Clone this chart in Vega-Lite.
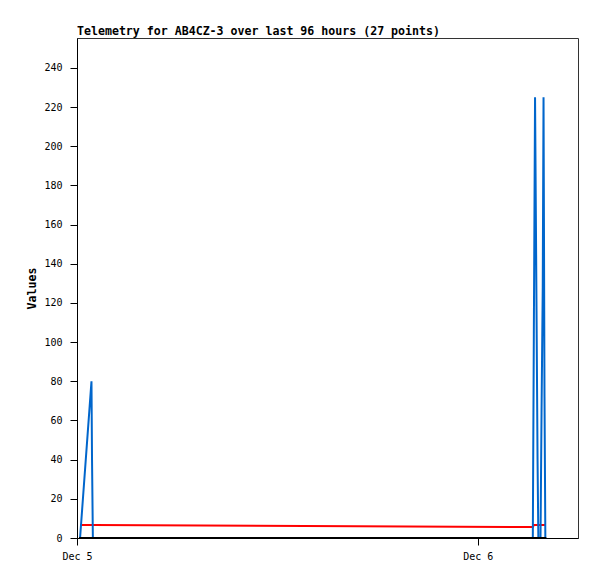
{
  "$schema": "https://vega.github.io/schema/vega-lite/v6.json",
  "autosize": {"type": "none"},
  "padding": {"left": 77, "top": 38, "right": 19, "bottom": 41},
  "width": 501,
  "height": 500,
  "background": "white",
  "title": {
    "text": "Telemetry for AB4CZ-3 over last 96 hours (27 points)",
    "anchor": "start",
    "frame": "group",
    "font": "DejaVu Sans Mono",
    "fontSize": 11.6,
    "fontWeight": "bold",
    "color": "black",
    "offset": 0
  },
  "config": {
    "view": {"stroke": "#333333", "strokeWidth": 1},
    "axis": {
      "labelFont": "DejaVu Sans Mono",
      "labelFontSize": 10,
      "labelColor": "black",
      "domainColor": "black",
      "tickColor": "black",
      "tickSize": 7,
      "grid": false,
      "titleFont": "DejaVu Sans Mono",
      "titleFontSize": 11.6,
      "titleFontWeight": "bold",
      "titleColor": "black"
    }
  },
  "datasets": {
    "blue": [
      {"t": "2024-12-05T00:11:00", "v": 0},
      {"t": "2024-12-05T00:52:00", "v": 80},
      {"t": "2024-12-05T00:54:00", "v": 40},
      {"t": "2024-12-05T00:57:00", "v": 0},
      {"t": "2024-12-06T03:17:40", "v": 0},
      {"t": "2024-12-06T03:21:20", "v": 104},
      {"t": "2024-12-06T03:25:40", "v": 225},
      {"t": "2024-12-06T03:31:00", "v": 116},
      {"t": "2024-12-06T03:34:40", "v": 40},
      {"t": "2024-12-06T03:37:30", "v": 0},
      {"t": "2024-12-06T03:45:20", "v": 0},
      {"t": "2024-12-06T03:49:00", "v": 64},
      {"t": "2024-12-06T03:53:20", "v": 128},
      {"t": "2024-12-06T03:56:10", "v": 225},
      {"t": "2024-12-06T03:59:40", "v": 72},
      {"t": "2024-12-06T04:02:40", "v": 0}
    ],
    "red": [
      {"t": "2024-12-05T00:11:00", "v": 6.6},
      {"t": "2024-12-05T00:57:00", "v": 6.6},
      {"t": "2024-12-06T03:17:40", "v": 5.6},
      {"t": "2024-12-06T03:21:20", "v": 6.6},
      {"t": "2024-12-06T04:02:40", "v": 6.6}
    ],
    "black": [
      {"t": "2024-12-05T00:11:00", "v": 0},
      {"t": "2024-12-06T04:02:40", "v": 0}
    ]
  },
  "encoding": {
    "x": {
      "field": "t",
      "type": "temporal",
      "scale": {
        "domain": [
          {"year": 2024, "month": 12, "date": 5, "hours": 0},
          {"year": 2024, "month": 12, "date": 6, "hours": 6}
        ]
      },
      "axis": {
        "title": null,
        "values": [
          {"year": 2024, "month": 12, "date": 5},
          {"year": 2024, "month": 12, "date": 6}
        ],
        "format": "%b %-d",
        "labelPadding": 6,
        "labelFlush": false,
        "labelOverlap": false
      }
    },
    "y": {
      "field": "v",
      "type": "quantitative",
      "scale": {"domain": [0, 255.3], "nice": false, "zero": true},
      "axis": {
        "title": "Values",
        "values": [0, 20, 40, 60, 80, 100, 120, 140, 160, 180, 200, 220, 240],
        "labelPadding": 8,
        "titlePadding": 6
      }
    }
  },
  "layer": [
    {
      "data": {"name": "red"},
      "mark": {"type": "line", "color": "#ff0000", "strokeWidth": 2}
    },
    {
      "data": {"name": "blue"},
      "mark": {"type": "line", "color": "#0066cc", "strokeWidth": 2}
    },
    {
      "data": {"name": "black"},
      "mark": {"type": "line", "color": "#000000", "strokeWidth": 2, "strokeCap": "square"}
    }
  ]
}
